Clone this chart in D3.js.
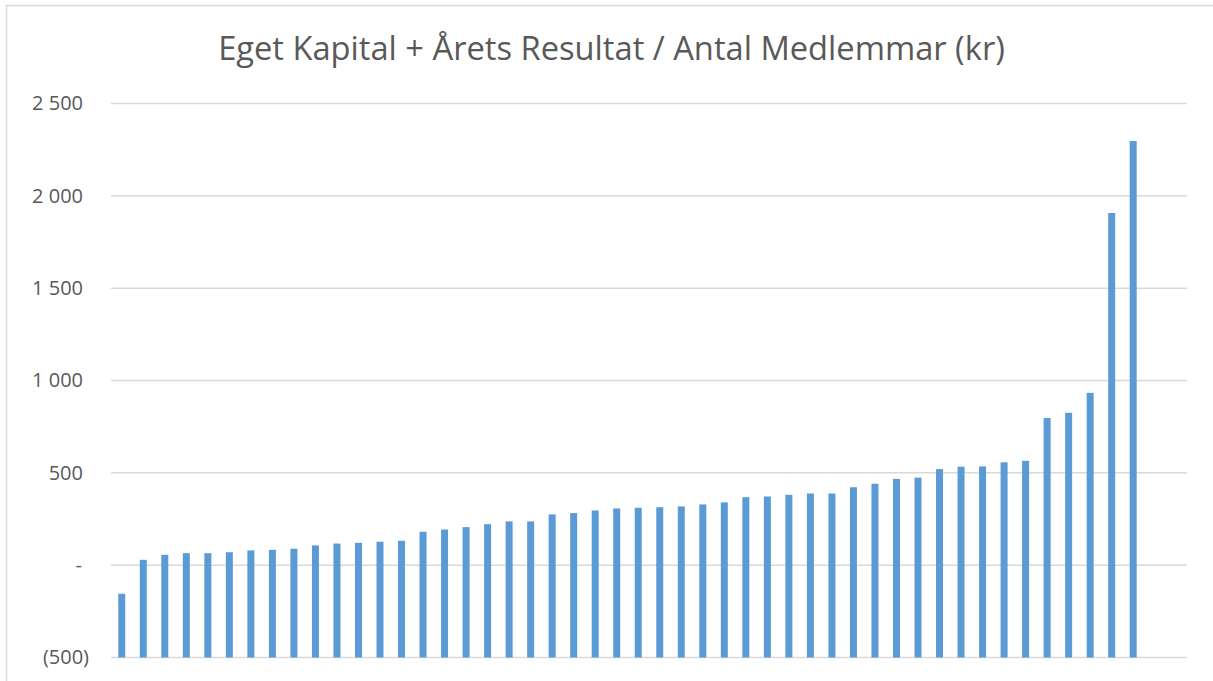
<!DOCTYPE html>
<html>
<head>
<meta charset="utf-8">
<script src="https://cdn.jsdelivr.net/npm/d3@7"></script>
<style>
  body { margin: 0; background: #fff; }
</style>
</head>
<body>
<script>
// data: one value per förening, sorted ascending (kr); last two categories are empty
const values = [
  -155, 29, 56, 65, 65, 70, 80, 83, 89, 107,
  117, 121, 127, 132, 181, 193, 206, 222, 237, 237,
  275, 282, 296, 307, 311, 314, 318, 329, 340, 368,
  372, 381, 388, 388, 422, 441, 467, 474, 520, 533,
  535, 557, 565, 797, 825, 933, 1907, 2297, null, null
];
const categories = values.map((v, i) => i + 1);
const tickValues = [-500, 0, 500, 1000, 1500, 2000, 2500];
const tickLabels = ["(500)", "-", "500", "1 000", "1 500", "2 000", "2 500"];
const title = "Eget Kapital + Årets Resultat / Antal Medlemmar (kr)";

const width = 1213;
const height = 681;
const marginLeft = 111;
const marginRight = 26;
const marginTop = 103.5;
const marginBottom = 23.5;

const svg = d3.select("body")
  .append("svg")
  .attr("width", width)
  .attr("height", height);

// chart area border
svg.append("rect")
  .attr("x", 6.5)
  .attr("y", 5.5)
  .attr("width", width + 10)
  .attr("height", height + 10)
  .attr("fill", "#fff")
  .attr("stroke", "#d9d9d9")
  .attr("stroke-width", 1.5);

const xScale = d3.scaleBand()
  .domain(categories)
  .range([marginLeft, width - marginRight])
  .paddingInner(0.675)
  .paddingOuter(0.3375);

const yScale = d3.scaleLinear()
  .domain([-500, 2500])
  .range([height - marginBottom, marginTop]);

// gridlines
svg.append("g")
  .selectAll("line")
  .data(tickValues)
  .join("line")
  .attr("x1", marginLeft)
  .attr("x2", width - marginRight)
  .attr("y1", d => yScale(d))
  .attr("y2", d => yScale(d))
  .attr("stroke", "#d9d9d9")
  .attr("stroke-width", 1.5);

// y axis labels
const yAxis = svg.append("g")
  .attr("transform", "translate(83,0)")
  .call(d3.axisLeft(yScale)
    .tickValues(tickValues)
    .tickSize(0)
    .tickPadding(0)
    .tickFormat((d, i) => tickLabels[i]));

yAxis.select(".domain").remove();
yAxis.selectAll("text")
  .attr("fill", "#595959")
  .attr("font-family", "'Open Sans', sans-serif")
  .attr("font-size", "20px")
  .attr("dx", (d, i) => tickLabels[i].endsWith(")") ? 6 : (tickLabels[i] === "-" ? -1 : 0));

// bars, grown from the bottom of the axis
svg.append("g")
  .selectAll("rect")
  .data(values.map((v, i) => ({ cat: categories[i], v: v })).filter(d => d.v !== null))
  .join("rect")
  .attr("x", d => xScale(d.cat))
  .attr("width", xScale.bandwidth())
  .attr("y", d => yScale(d.v))
  .attr("height", d => yScale(-500) - yScale(d.v))
  .attr("fill", "#5b9bd5");

// title
const t = svg.append("text")
  .attr("x", 611.5)
  .attr("y", 60)
  .attr("text-anchor", "middle")
  .attr("fill", "#595959")
  .attr("font-family", "'Open Sans', sans-serif")
  .attr("font-size", "29px")
  .text(title);
const w = t.node().getComputedTextLength();
if (w > 0) t.attr("font-size", (29 * 787 / w) + "px");
</script>
</body>
</html>
